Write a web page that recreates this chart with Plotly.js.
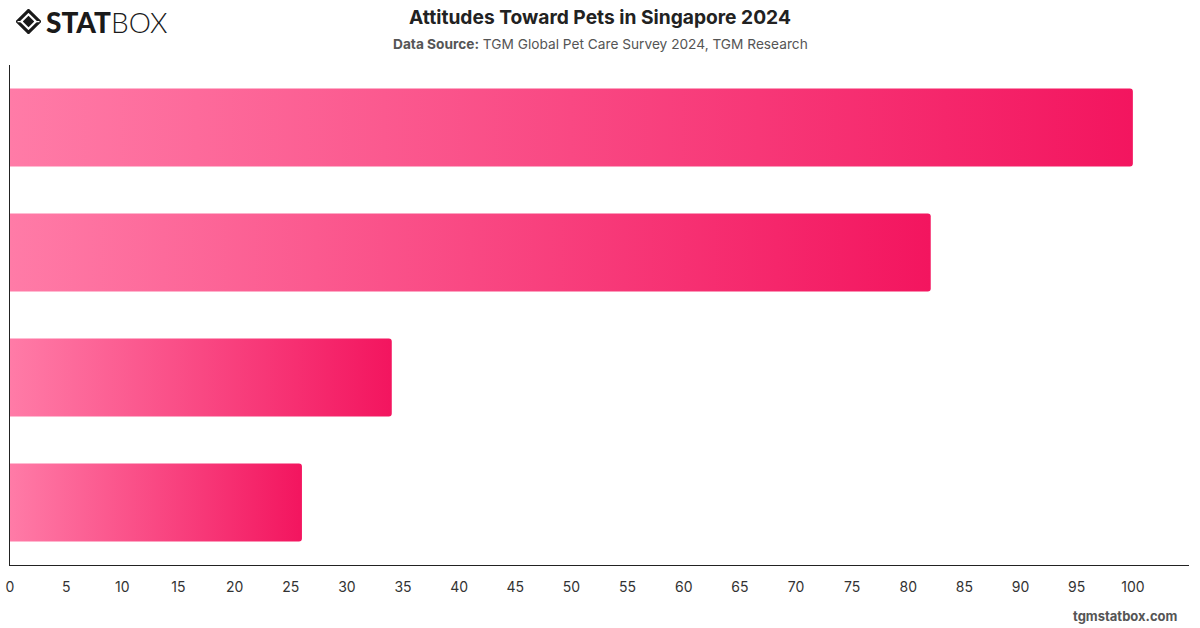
<!DOCTYPE html>
<html>
<head>
<meta charset="utf-8">
<script src="https://cdn.plot.ly/plotly-3.0.1.min.js"></script>
<style>
  html, body { margin: 0; padding: 0; background: #fff; }
  #chart { width: 1200px; height: 628px; }
</style>
</head>
<body>
<div id="chart"></div>
<script>
// Survey statements (labels are hidden on the axis) and share of respondents (%)
const categories = ['Attitude 1', 'Attitude 2', 'Attitude 3', 'Attitude 4'];
const values = [100, 82, 34, 26];
const xTicks = [0, 5, 10, 15, 20, 25, 30, 35, 40, 45, 50, 55, 60, 65, 70, 75, 80, 85, 90, 95, 100];

const titleText = 'Attitudes Toward Pets in Singapore 2024';
const sourceText = '<b>Data Source:</b> TGM Global Pet Care Survey 2024, TGM Research';
const siteText = 'tgmstatbox.com';

const W = 1200, H = 628;
const margin = { l: 10, r: 11, t: 65, b: 63 };
const plotW = W - margin.l - margin.r;
const plotH = H - margin.t - margin.b;
// pixel -> paper helpers for header/footer decorations
const px = x => (x - margin.l) / plotW;
const py = y => (H - margin.b - y) / plotH;

const logoSvg = '<svg xmlns="http://www.w3.org/2000/svg" width="24" height="24" viewBox="0 0 24 24">' +
  '<path d="M12 1.5 L22.5 12 L12 22.5 L1.5 12 Z" fill="none" stroke="#1a1a1a" stroke-width="3"/>' +
  '<path d="M12 6.5 L17.5 12 L12 17.5 L6.5 12 Z" fill="#1a1a1a"/>' +
  '<path d="M1.5 12 L6.5 12 M17.5 12 L22.5 12" stroke="#fff" stroke-width="1.2"/>' +
  '</svg>';

const trace = {
  type: 'bar',
  orientation: 'h',
  x: values,
  y: categories,
  marker: { color: '#f73c7f', cornerradius: 3 },
  hoverinfo: 'x',
  showlegend: false
};

const layout = {
  width: W,
  height: H,
  margin: margin,
  paper_bgcolor: '#ffffff',
  plot_bgcolor: '#ffffff',
  font: { family: 'Inter, "Open Sans", sans-serif', color: '#333' },
  bargap: 0.376,
  xaxis: {
    range: [0, 105],
    tickvals: xTicks,
    ticktext: xTicks.map(String),
    showgrid: false,
    zeroline: false,
    showline: true,
    linecolor: '#222',
    linewidth: 1,
    ticks: 'outside',
    ticklen: 9,
    tickcolor: 'rgba(0,0,0,0)',
    tickfont: { size: 14, color: '#333' },
    fixedrange: true
  },
  yaxis: {
    autorange: 'reversed',
    showticklabels: false,
    showgrid: false,
    zeroline: false,
    showline: true,
    linecolor: '#222',
    linewidth: 1,
    ticks: '',
    fixedrange: true
  },
  images: [{
    source: 'data:image/svg+xml;utf8,' + encodeURIComponent(logoSvg),
    xref: 'paper', yref: 'paper',
    x: px(16), y: py(9),
    sizex: 25 / plotW, sizey: 25 / plotH,
    xanchor: 'left', yanchor: 'top',
    sizing: 'stretch'
  }],
  annotations: [
    {
      text: titleText,
      xref: 'paper', yref: 'paper',
      x: px(600), y: py(17), xanchor: 'center', yanchor: 'middle',
      showarrow: false,
      font: { size: 19.2, color: '#222', weight: 700 }
    },
    {
      text: sourceText,
      xref: 'paper', yref: 'paper',
      x: px(600), y: py(44), xanchor: 'center', yanchor: 'middle',
      showarrow: false,
      font: { size: 13.7, color: '#555' }
    },
    {
      text: 'STAT',
      xref: 'paper', yref: 'paper',
      x: px(44), y: py(22), xanchor: 'left', yanchor: 'middle',
      showarrow: false,
      font: { family: 'Lato, sans-serif', size: 28, color: '#1a1a1a', weight: 900 }
    },
    {
      text: 'BOX',
      xref: 'paper', yref: 'paper',
      x: px(109), y: py(22), xanchor: 'left', yanchor: 'middle',
      showarrow: false,
      font: { family: 'Lato, sans-serif', size: 28, color: '#1a1a1a', weight: 300 }
    },
    {
      text: siteText,
      xref: 'paper', yref: 'paper',
      x: px(1180), y: py(616), xanchor: 'right', yanchor: 'middle',
      showarrow: false,
      font: { size: 13, color: '#555', weight: 700 }
    }
  ]
};

// Horizontal light-to-deep pink gradient applied to every bar
function applyGradient(gd) {
  const svg = gd.querySelector('svg.main-svg');
  const ns = 'http://www.w3.org/2000/svg';
  let defs = svg.querySelector('defs');
  if (!defs) { defs = document.createElementNS(ns, 'defs'); svg.insertBefore(defs, svg.firstChild); }
  if (!svg.querySelector('#barGradient')) {
    const grad = document.createElementNS(ns, 'linearGradient');
    grad.setAttribute('id', 'barGradient');
    grad.setAttribute('x1', '0'); grad.setAttribute('y1', '0');
    grad.setAttribute('x2', '1'); grad.setAttribute('y2', '0');
    [['0%', '#ff7ba7'], ['100%', '#f3155f']].forEach(([off, col]) => {
      const s = document.createElementNS(ns, 'stop');
      s.setAttribute('offset', off);
      s.setAttribute('stop-color', col);
      grad.appendChild(s);
    });
    defs.appendChild(grad);
  }
  gd.querySelectorAll('.barlayer .point path').forEach(p => {
    p.style.fill = 'url(#barGradient)';
    p.style.fillOpacity = 1;
  });
}

const gd = document.getElementById('chart');
Plotly.newPlot(gd, [trace], layout, { displayModeBar: false, staticPlot: true })
  .then(() => applyGradient(gd));
</script>
</body>
</html>
